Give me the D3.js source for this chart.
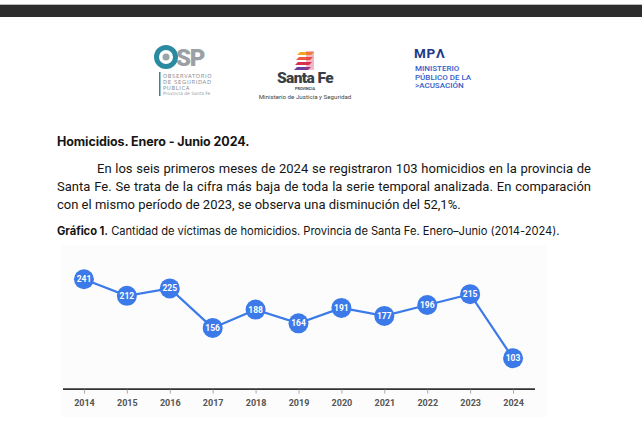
<html lang="es">
<head>
<meta charset="UTF-8"/>
<title>Homicidios Santa Fe</title>
<script src="https://d3js.org/d3.v7.min.js"></script>
<style>
    body { margin: 0; background: #fff; width: 642px; height: 424px; overflow: hidden; position: relative; font-family: Roboto, "Noto Sans", sans-serif; }
    #topbar { position: absolute; left: 0; top: 4px; width: 642px; height: 12px; background: #2d2d2d; border-top: 1px solid #bbb; }
    #logos { position: absolute; left: 0; top: 0; }
    .txt { position: absolute; color: #151515; }
    #titulo { left: 57px; top: 134px; font-family: Inter, Roboto, sans-serif; font-weight: 700; font-size: 12.5px; letter-spacing: -0.1px; }
    #parrafo { left: 57px; top: 160px; width: 534px; font-size: 13px; line-height: 18px; text-align: justify; text-indent: 40px; }
    #grafico { left: 57px; top: 224px; font-family: Inter, Roboto, sans-serif; font-size: 11.2px; letter-spacing: -0.05px; }
    #chart { position: absolute; left: 0; top: 0; }
</style>
</head>
<body>
<div id="topbar"></div>
<svg id="logos" width="642" height="120"></svg>
<div class="txt" id="titulo">Homicidios. Enero - Junio 2024.</div>
<div class="txt" id="parrafo">En los seis primeros meses de 2024 se registraron 103 homicidios en la provincia de Santa Fe. Se trata de la cifra más baja de toda la serie temporal analizada. En comparación con el mismo período de 2023, se observa una disminución del 52,1%.</div>
<div class="txt" id="grafico"><b>Gráfico 1.</b> Cantidad de víctimas de homicidios. Provincia de Santa Fe. Enero–Junio (2014-2024).</div>
<svg id="chart" width="642" height="424"></svg>
<script>
    // datos del gráfico
    var years = ["2014","2015","2016","2017","2018","2019","2020","2021","2022","2023","2024"];
    var victims = [241, 212, 225, 156, 188, 164, 191, 177, 196, 215, 103];

    var blue = "#3b7ae8";

    // logos (aproximados)
    var lg = d3.select("#logos");

    // OSP
    var osp = lg.append("g");
    osp.append("circle").attr("cx", 166).attr("cy", 57).attr("r", 9.5)
        .attr("fill", "none").attr("stroke", "#2a8aa0").attr("stroke-width", 5);
    osp.append("circle").attr("cx", 166).attr("cy", 57).attr("r", 3.5).attr("fill", "#9aa5aa");
    osp.append("text").attr("x", 176).attr("y", 66).text("SP")
        .attr("font-family", "Roboto").attr("font-weight", 900).attr("font-size", 24)
        .attr("fill", "#9aa0a4").attr("letter-spacing", -1.2);
    osp.append("rect").attr("x", 159).attr("y", 72).attr("width", 1.5).attr("height", 24).attr("fill", "#2a8aa0");
    ["OBSERVATORIO", "DE SEGURIDAD", "PUBLICA"].forEach(function(t, i) {
        osp.append("text").attr("x", 163).attr("y", 77.5 + i * 6).text(t)
            .attr("font-family", "DejaVu Sans").attr("font-size", 5.4).attr("letter-spacing", 0.6)
            .attr("fill", "#8a9196");
    });
    osp.append("text").attr("x", 163).attr("y", 95).text("Provincia de Santa Fe")
        .attr("font-family", "DejaVu Sans").attr("font-size", 4.4).attr("fill", "#9aa0a4");

    // Santa Fe
    var sf = lg.append("g");
    var stripeCols = ["#f5a623", "#ef5a3c", "#d6304f", "#6b3fa0"];
    stripeCols.forEach(function(c, i) {
        sf.append("path")
            .attr("d", "M297," + (52 + i * 5) + " l14,0 l-3,3 l-14,0 z")
            .attr("fill", c).attr("transform", "translate(" + (3 - i) + ",0)");
    });
    sf.append("rect").attr("x", 306).attr("y", 51).attr("width", 8).attr("height", 19).attr("fill", "#d6304f").attr("opacity", 0.35);
    sf.append("text").attr("x", 305).attr("y", 83).attr("text-anchor", "middle").text("Santa Fe")
        .attr("font-family", "Roboto").attr("font-weight", 900).attr("font-size", 15.5)
        .attr("fill", "#3a3f47").attr("letter-spacing", -0.6);
    sf.append("text").attr("x", 305).attr("y", 90).attr("text-anchor", "middle").text("PROVINCIA")
        .attr("font-family", "Roboto").attr("font-weight", 700).attr("font-size", 3.8).attr("fill", "#444");
    sf.append("text").attr("x", 305).attr("y", 99).attr("text-anchor", "middle").text("Ministerio de Justicia y Seguridad")
        .attr("font-family", "Liberation Sans Narrow, Roboto").attr("font-size", 6.2).attr("fill", "#444");

    // MPA
    var mpa = lg.append("g");
    mpa.append("text").attr("x", 414).attr("y", 58).text("MPΛ")
        .attr("font-family", "Roboto").attr("font-weight", 700).attr("font-size", 13.5)
        .attr("fill", "#1f3a8a").attr("letter-spacing", 0.8);
    ["MINISTERIO", "PÚBLICO DE LA", ">ACUSACIÓN"].forEach(function(t, i) {
        mpa.append("text").attr("x", 415).attr("y", 71 + i * 8.6).text(t)
            .attr("font-family", "Roboto").attr("font-weight", 500).attr("font-size", 8)
            .attr("fill", "#3360c8");
    });

    // gráfico de líneas
    var svg = d3.select("#chart");

    var xScale = d3.scalePoint()
        .domain(years)
        .range([62.5, 534.5])
        .padding(0.5);

    var yScale = d3.scaleLinear()
        .domain([50, 300])
        .range([388.6, 245.5]);

    svg.append("rect")
        .attr("x", 62).attr("y", 245)
        .attr("width", 484).attr("height", 172)
        .attr("fill", "#fcfcfc");

    var xAxis = d3.axisBottom(xScale).tickSize(5).tickSizeOuter(0);
    var gx = svg.append("g")
        .attr("transform", "translate(0," + yScale(50) + ")")
        .call(xAxis);
    gx.select(".domain").attr("stroke", "#333").attr("stroke-width", 1.6);
    gx.selectAll(".tick line").attr("stroke", "#aaa").attr("y1", 1);
    gx.selectAll(".tick text")
        .attr("y", 11)
        .attr("fill", "#555")
        .attr("font-family", "Roboto")
        .attr("font-weight", 700)
        .attr("font-size", 9);

    var line = d3.line()
        .x(function(d, i) { return xScale(years[i]); })
        .y(function(d) { return yScale(d); });

    svg.append("path")
        .datum(victims)
        .attr("fill", "none")
        .attr("stroke", blue)
        .attr("stroke-width", 2.2)
        .attr("d", line);

    svg.selectAll("circle.pt")
        .data(victims)
        .enter()
        .append("circle")
        .attr("class", "pt")
        .attr("cx", function(d, i) { return xScale(years[i]); })
        .attr("cy", function(d) { return yScale(d); })
        .attr("r", 10)
        .attr("fill", blue);

    svg.selectAll("text.lbl")
        .data(victims)
        .enter()
        .append("text")
        .attr("class", "lbl")
        .attr("x", function(d, i) { return xScale(years[i]); })
        .attr("y", function(d) { return yScale(d); })
        .attr("dy", "0.35em")
        .attr("text-anchor", "middle")
        .attr("fill", "#fff")
        .attr("font-family", "Roboto")
        .attr("font-weight", 700)
        .attr("font-size", 8.5)
        .text(function(d) { return d; });
</script>
</body>
</html>
